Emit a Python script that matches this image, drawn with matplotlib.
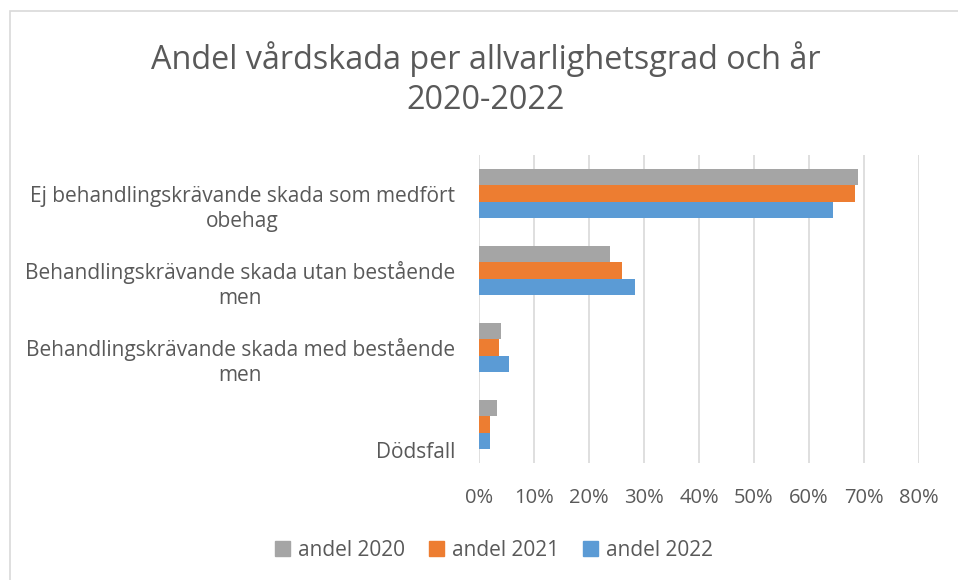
import matplotlib
matplotlib.use('Agg')
import matplotlib.pyplot as plt
from matplotlib.patches import Rectangle, Patch
from matplotlib.ticker import PercentFormatter

plt.rcParams['font.family'] = ['Open Sans', 'DejaVu Sans']

# Data (share of care injuries per severity, %)
categories = ['Dödsfall',
              'Behandlingskrävande skada med bestående\nmen',
              'Behandlingskrävande skada utan bestående\nmen',
              'Ej behandlingskrävande skada som medfört\nobehag']
andel_2020 = [3.2, 4.0, 23.9, 68.9]
andel_2021 = [2.0, 3.7, 26.0, 68.4]
andel_2022 = [2.0, 5.4, 28.3, 64.3]
series_labels = ['andel 2020', 'andel 2021', 'andel 2022']
colors = ['#A5A5A5', '#ED7D31', '#5B9BD5']
x_ticks = [0, 10, 20, 30, 40, 50, 60, 70, 80]

text_color = '#595959'
W, H = 958, 580

fig = plt.figure(figsize=(W / 100, H / 100), dpi=100)
fig.patches.append(Rectangle((10 / W, -0.1), 1.2, 1 - 11 / H + 0.1, transform=fig.transFigure,
                             fill=False, edgecolor='#D9D9D9', linewidth=1.2))

ax = fig.add_axes([479 / W, 1 - 463 / H, 440 / W, 308 / H])

bh = 0.208
pos = range(len(categories))
for i, (vals, lab, col) in enumerate(zip([andel_2020, andel_2021, andel_2022], series_labels, colors)):
    offs = (1 - i) * bh
    ax.barh([p + offs for p in pos], vals, height=bh, color=col, label=lab, zorder=3)

ax.set_xlim(0, 80)
ax.set_ylim(-0.5, len(categories) - 0.5)
ax.set_xticks(x_ticks)
ax.xaxis.set_major_formatter(PercentFormatter(decimals=0))
ax.tick_params(axis='x', length=0, pad=18, labelsize=14.5, labelcolor=text_color)
ax.set_yticks([])
ax.grid(axis='x', color='#D9D9D9', linewidth=1.2, zorder=0)
for s in ax.spines.values():
    s.set_visible(False)

# Category labels (Excel puts them slightly below the group center)
for p, cat in zip(pos, categories):
    ax.text(-24 / 440 * 80, p - 0.5, cat, ha='right', va='bottom', multialignment='center',
            fontsize=15, color=text_color, linespacing=1.27)

fig.text(486 / W, 1 - 79 / H, 'Andel vårdskada per allvarlighetsgrad och år\n2020-2022',
         ha='center', va='center', fontsize=23.3, color=text_color, linespacing=1.3)

handles = [Patch(color=c) for c in colors]
fig.legend(handles, series_labels, loc='center', bbox_to_anchor=(494 / W, 1 - 550 / H), ncol=3,
           frameon=False, fontsize=15, labelcolor=text_color, handlelength=0.7, handleheight=0.7,
           handletextpad=0.4, columnspacing=1.15)

fig.savefig('out.png', dpi=100)
